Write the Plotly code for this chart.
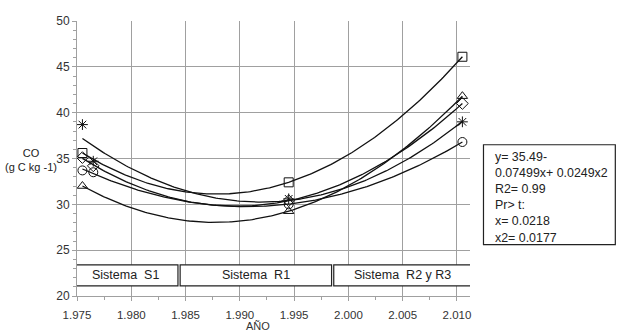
import numpy as np
import plotly.graph_objects as go

# ---- data ----
years_sq = [1975.5, 1994.5, 2010.5]
co_sq = [35.6, 32.4, 46.1]

years_tri = [1975.5, 1994.5, 2010.5]
co_tri = [32.0, 29.25, 41.8]

years_ast = [1975.5, 1976.5, 1994.5, 2010.5]
co_ast = [38.7, 34.7, 30.6, 39.0]

years_dia = [1975.5, 1976.5, 1994.5, 2010.5]
co_dia = [35.1, 34.2, 30.4, 41.0]

years_cir = [1975.5, 1976.5, 1994.5, 2010.5]
co_cir = [33.7, 33.5, 30.0, 36.8]

x_tickvals = [1975, 1980, 1985, 1990, 1995, 2000, 2005, 2010]
x_ticktext = ["1.975", "1.980", "1.985", "1.990", "1.995", "2.000", "2.005", "2.010"]
y_tickvals = [20, 25, 30, 35, 40, 45, 50]

system_labels = ["Sistema  S1", "Sistema  R1", "Sistema  R2 y R3"]
system_spans = [(1974.63, 1984.3), (1984.5, 1998.45), (1998.65, 2011.34)]

stats_lines = ["y= 35.49-", "0.07499x+ 0.0249x2", "R2= 0.99", "Pr> t:", "x= 0.0218", "x2= 0.0177"]

series = [
    (years_sq, co_sq, "square-open"),
    (years_tri, co_tri, "triangle-up-open"),
    (years_ast, co_ast, "asterisk-open"),
    (years_dia, co_dia, "diamond-open"),
    (years_cir, co_cir, "circle-open"),
]

FONT = "Liberation Sans, Arial, sans-serif"
GRID = "#a0a0a0"
L, R, T, B = 77, 470.5, 21, 296.5
W, H = 619, 334


def px(xp):
    return (xp - L) / (R - L)


def py(yp):
    return (B - yp) / (B - T)


fig = go.Figure()

for xs, ys, sym in series:
    xa = np.array(xs) - 1975
    coef = np.polyfit(xa, ys, 2)
    xf = np.linspace(min(xs), max(xs), 200)
    yf = np.polyval(coef, xf - 1975)
    fig.add_trace(go.Scatter(x=xf, y=yf, mode="lines",
                             line=dict(color="#111111", width=1.3),
                             showlegend=False, hoverinfo="skip"))
    fig.add_trace(go.Scatter(x=xs, y=ys, mode="markers",
                             marker=dict(symbol=sym, size=9, color="#111111",
                                         line=dict(color="#111111", width=1)),
                             showlegend=False))

# Sistema boxes
for (x0, x1), lab in zip(system_spans, system_labels):
    fig.add_shape(type="rect", xref="x", yref="y", x0=x0, x1=x1, y0=21.1, y1=23.4,
                  line=dict(color="#222222", width=1.2), fillcolor="white", layer="above")
    fig.add_annotation(x=(x0 + x1) / 2, y=22.25, xref="x", yref="y", text=lab,
                       showarrow=False, font=dict(family=FONT, size=12.5, color="#222222"))

# stats box
fig.add_shape(type="rect", xref="paper", yref="paper",
              x0=px(484), x1=px(616), y0=py(245), y1=py(145),
              line=dict(color="#222222", width=1.2), fillcolor="white")
fig.add_annotation(xref="paper", yref="paper", x=px(494), y=py(148),
                   xanchor="left", yanchor="top", align="left",
                   text="<br>".join(stats_lines), showarrow=False,
                   font=dict(family=FONT, size=12.4, color="#222222"))

# y title
fig.add_annotation(xref="paper", yref="paper", x=px(31), y=py(160),
                   xanchor="center", yanchor="middle",
                   text="CO<br>(g C kg -1)", showarrow=False, align="center",
                   font=dict(family=FONT, size=11, color="#222222"))

# x title
fig.add_annotation(xref="paper", yref="paper", x=px(258), y=py(327),
                   xanchor="center", yanchor="middle",
                   text="AÑO", showarrow=False,
                   font=dict(family=FONT, size=11, color="#333333"))

fig.update_layout(
    width=W, height=H,
    margin=dict(l=L, r=W - R, t=T, b=H - B, autoexpand=False),
    plot_bgcolor="white", paper_bgcolor="white",
    font=dict(family=FONT, size=11, color="#333333"),
    xaxis=dict(range=[1975, 2011.2], tickvals=x_tickvals, ticktext=x_ticktext,
               automargin=False,
               showgrid=True, gridcolor=GRID, gridwidth=1, zeroline=False,
               showline=True, linecolor=GRID, linewidth=1,
               ticks="outside", ticklen=4, tickcolor=GRID, ticklabelstandoff=4,
               minor=dict(dtick=2.5, tick0=1975, ticks="outside", ticklen=3, tickcolor=GRID, showgrid=False),
               tickfont=dict(family=FONT, size=11.5, color="#333333")),
    yaxis=dict(range=[20, 50], tickvals=y_tickvals, automargin=False,
               showgrid=True, gridcolor=GRID, gridwidth=1, zeroline=False,
               showline=True, linecolor=GRID, linewidth=1,
               ticks="outside", ticklen=4, tickcolor=GRID,
               minor=dict(dtick=1, tick0=20, ticks="outside", ticklen=3, tickcolor=GRID, showgrid=False),
               tickfont=dict(family=FONT, size=12, color="#333333")),
)

fig.write_html("out.html")
